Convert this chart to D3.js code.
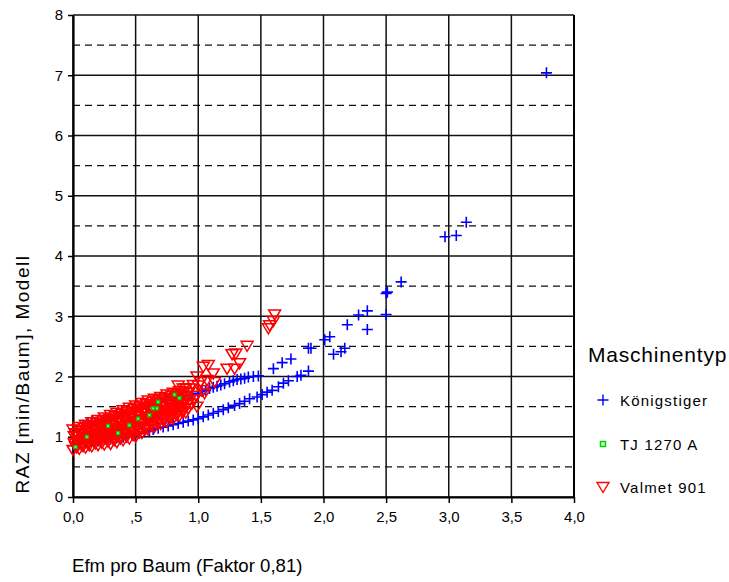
<!DOCTYPE html>
<html>
<head>
<meta charset="utf-8">
<script src="https://cdn.jsdelivr.net/npm/d3@7"></script>
<style>
  body { margin: 0; background: #fff; }
  text { font-family: "Liberation Sans", Arial, sans-serif; fill: #000; }
</style>
</head>
<body>
<div class="chart"></div>
<script>
// data ---------------------------
const xTicks = [0, 0.5, 1, 1.5, 2, 2.5, 3, 3.5, 4];
const xTickLabels = ["0,0", ",5", "1,0", "1,5", "2,0", "2,5", "3,0", "3,5", "4,0"];
const yTicks = [0, 1, 2, 3, 4, 5, 6, 7, 8];
const yHalf = [0.5, 1.5, 2.5, 3.5, 4.5, 5.5, 6.5, 7.5];
const seriesNames = ["Königstiger", "TJ 1270 A", "Valmet 901"];

const koenigstiger = [
  [0.08,1.18],[0.12,1.22],[0.15,1.25],[0.18,1.24],[0.22,1.28],[0.26,1.30],[0.30,1.33],[0.35,1.36],
  [0.39,1.41],[0.44,1.42],[0.50,1.46],[0.55,1.48],[0.60,1.51],[0.65,1.54],[0.70,1.57],[0.75,1.60],
  [0.80,1.62],[0.85,1.65],[0.90,1.68],[0.95,1.70],[1.00,1.72],[1.03,1.75],[1.06,1.77],[1.09,1.80],
  [1.12,1.82],[1.15,1.84],[1.18,1.86],[1.21,1.88],[1.25,1.91],[1.28,1.93],[1.31,1.95],[1.34,1.96],
  [1.37,1.97],[1.40,1.99],[1.44,2.00],[1.48,2.01],[1.60,2.13],[1.67,2.23],[1.74,2.29],[1.88,2.47],
  [1.90,2.47],[2.01,2.61],[2.05,2.66],[2.19,2.86],[2.28,3.02],[2.35,3.09],[2.50,3.38],[2.51,3.40],
  [2.62,3.57],[2.97,4.32],[3.06,4.34],[3.14,4.56],[3.78,7.04],
  [0.00,0.85],[0.05,0.88],[0.10,0.90],[0.15,0.92],[0.20,0.93],[0.25,0.95],[0.30,0.96],[0.35,0.98],
  [0.40,0.99],[0.43,1.00],[0.47,1.02],[0.50,1.04],[0.53,1.06],[0.57,1.08],[0.61,1.10],[0.64,1.12],
  [0.68,1.14],[0.72,1.16],[0.76,1.18],[0.80,1.20],[0.84,1.22],[0.88,1.24],[0.92,1.26],[0.96,1.28],
  [1.00,1.30],[1.04,1.33],[1.08,1.36],[1.12,1.39],[1.16,1.42],[1.20,1.45],[1.24,1.48],[1.29,1.52],
  [1.33,1.55],[1.37,1.59],[1.41,1.63],[1.47,1.66],[1.51,1.70],[1.55,1.74],[1.59,1.77],[1.64,1.83],
  [1.68,1.89],[1.72,1.93],[1.79,2.00],[1.82,2.02],[1.88,2.09],[2.08,2.37],[2.14,2.41],[2.17,2.47],
  [2.35,2.78],[2.50,3.03]
];

const tj1270 = [
  [0.02,0.83],[0.11,1.00],[0.36,1.06],[0.45,1.19],[0.28,1.18],[0.52,1.30],[0.61,1.36],[0.64,1.47],
  [0.67,1.47],[0.68,1.58],[0.81,1.70],[0.85,1.64]
];

const valmet = [
  [0.00,0.78],[0.02,0.84],[0.01,0.89],[0.03,0.95],[0.01,1.01],[0.02,1.06],[0.00,1.12],
  [0.05,0.80],[0.07,0.86],[0.06,0.92],[0.08,0.98],[0.06,1.04],[0.07,1.10],[0.05,1.16],
  [0.10,0.82],[0.12,0.88],[0.11,0.95],[0.13,1.01],[0.11,1.07],[0.12,1.14],[0.10,1.20],
  [0.15,0.84],[0.17,0.91],[0.16,0.97],[0.18,1.04],[0.16,1.11],[0.17,1.17],[0.15,1.24],
  [0.20,0.86],[0.22,0.93],[0.21,1.00],[0.23,1.07],[0.21,1.14],[0.22,1.21],[0.20,1.28],
  [0.25,0.87],[0.27,0.95],[0.26,1.02],[0.28,1.10],[0.26,1.17],[0.27,1.25],[0.25,1.32],
  [0.30,0.88],[0.32,0.96],[0.31,1.04],[0.33,1.12],[0.31,1.20],[0.32,1.28],[0.30,1.36],
  [0.35,0.91],[0.37,0.99],[0.36,1.07],[0.38,1.16],[0.36,1.24],[0.37,1.32],[0.35,1.40],
  [0.40,0.94],[0.42,1.02],[0.41,1.11],[0.43,1.19],[0.41,1.27],[0.42,1.36],[0.40,1.44],
  [0.45,0.97],[0.47,1.06],[0.46,1.14],[0.48,1.23],[0.46,1.31],[0.47,1.40],[0.45,1.48],
  [0.50,1.00],[0.52,1.09],[0.51,1.17],[0.53,1.26],[0.51,1.35],[0.52,1.43],[0.50,1.52],
  [0.55,1.06],[0.57,1.14],[0.56,1.23],[0.58,1.31],[0.56,1.39],[0.57,1.48],[0.55,1.56],
  [0.60,1.12],[0.62,1.20],[0.61,1.28],[0.63,1.36],[0.61,1.44],[0.62,1.52],[0.60,1.60],
  [0.65,1.16],[0.67,1.24],[0.66,1.32],[0.68,1.40],[0.66,1.47],[0.67,1.55],[0.65,1.63],
  [0.70,1.21],[0.72,1.28],[0.71,1.36],[0.73,1.43],[0.71,1.51],[0.72,1.58],[0.70,1.66],
  [0.75,1.25],[0.77,1.33],[0.76,1.40],[0.78,1.48],[0.76,1.55],[0.77,1.63],[0.75,1.70],
  [0.80,1.30],[0.82,1.37],[0.81,1.44],[0.83,1.52],[0.81,1.59],[0.82,1.66],[0.80,1.73],
  [0.85,1.35],[0.87,1.42],[0.86,1.49],[0.88,1.56],[0.86,1.62],[0.87,1.69],[0.85,1.76],
  [0.90,1.40],[0.92,1.47],[0.91,1.53],[0.93,1.60],[0.91,1.67],[0.92,1.73],[0.90,1.80],
  // in-between layer of the dense cloud
  [0.03,0.82],[0.02,0.88],[0.04,0.94],[0.03,1.00],[0.02,1.05],[0.04,1.11],
  [0.08,0.84],[0.07,0.90],[0.09,0.97],[0.08,1.03],[0.07,1.09],[0.09,1.15],
  [0.13,0.86],[0.12,0.93],[0.14,0.99],[0.13,1.06],[0.12,1.12],[0.14,1.19],
  [0.18,0.89],[0.17,0.95],[0.19,1.02],[0.18,1.09],[0.17,1.16],[0.19,1.23],
  [0.23,0.90],[0.22,0.98],[0.24,1.05],[0.23,1.12],[0.22,1.19],[0.24,1.27],
  [0.28,0.92],[0.27,0.99],[0.29,1.07],[0.28,1.15],[0.27,1.23],[0.29,1.30],
  [0.33,0.94],[0.32,1.02],[0.34,1.10],[0.33,1.18],[0.32,1.26],[0.34,1.34],
  [0.38,0.97],[0.37,1.05],[0.39,1.13],[0.38,1.22],[0.37,1.30],[0.39,1.38],
  [0.43,1.00],[0.42,1.08],[0.44,1.17],[0.43,1.25],[0.42,1.34],[0.44,1.42],
  [0.48,1.03],[0.47,1.12],[0.49,1.20],[0.48,1.29],[0.47,1.37],[0.49,1.46],
  [0.53,1.07],[0.52,1.16],[0.54,1.24],[0.53,1.33],[0.52,1.41],[0.54,1.50],
  [0.58,1.13],[0.57,1.21],[0.59,1.30],[0.58,1.38],[0.57,1.46],[0.59,1.54],
  [0.63,1.18],[0.62,1.26],[0.64,1.34],[0.63,1.42],[0.62,1.50],[0.64,1.58],
  [0.68,1.22],[0.67,1.30],[0.69,1.38],[0.68,1.45],[0.67,1.53],[0.69,1.61],
  [0.73,1.27],[0.72,1.34],[0.74,1.42],[0.73,1.49],[0.72,1.57],[0.74,1.64],
  [0.78,1.31],[0.77,1.39],[0.79,1.46],[0.78,1.54],[0.77,1.61],[0.79,1.68],
  [0.83,1.36],[0.82,1.43],[0.84,1.50],[0.83,1.57],[0.82,1.64],[0.84,1.71],
  [0.88,1.41],[0.87,1.48],[0.89,1.55],[0.88,1.61],[0.87,1.68],[0.89,1.75],
  // sparse tail
  [0.95,1.55],[0.99,1.50],[0.97,1.62],[1.00,1.85],[0.93,1.80],
  [0.84,1.85],[0.88,1.80],[0.96,1.86],[0.98,1.68],
  [0.99,2.00],[1.02,1.91],[1.04,1.77],[1.05,1.72],[1.07,1.94],[1.13,1.91],[1.04,2.16],
  [1.08,2.19],[1.12,2.05],[1.23,2.13],[1.29,2.13],[1.33,2.22],[1.27,2.37],[1.30,2.38],
  [1.39,2.51],[1.56,2.80],[1.57,2.85],[1.60,2.92],[1.61,3.03]
];

// chart INIT ------
const margin = {top: 15, left: 73};
const width = 574 - 73;
const height = 497 - 15;

const svg = d3.select(".chart")
  .append("svg")
  .attr("width", 729)
  .attr("height", 582);

const g = svg.append("g")
  .attr("transform", `translate(${margin.left},${margin.top})`);

const xScale = d3.scaleLinear().domain([0, 4]).range([0, width]);
const yScale = d3.scaleLinear().domain([0, 8]).range([height, 0]);

// grid
g.selectAll(".vgrid").data(xTicks).enter().append("line")
  .attr("x1", d => xScale(d)).attr("x2", d => xScale(d))
  .attr("y1", 0).attr("y2", height)
  .attr("stroke", "#111").attr("stroke-width", 1.5);

g.selectAll(".hgrid").data(yTicks).enter().append("line")
  .attr("x1", 0).attr("x2", width)
  .attr("y1", d => yScale(d)).attr("y2", d => yScale(d))
  .attr("stroke", "#111").attr("stroke-width", 1.5);

g.selectAll(".hdash").data(yHalf).enter().append("line")
  .attr("x1", 0).attr("x2", width)
  .attr("y1", d => yScale(d)).attr("y2", d => yScale(d))
  .attr("stroke", "#111").attr("stroke-width", 1.2)
  .attr("stroke-dasharray", "7,5");

// axes
const xAxis = d3.axisBottom(xScale).tickValues(xTicks)
  .tickFormat((d, i) => xTickLabels[i]).tickSize(6).tickSizeOuter(0);
const yAxis = d3.axisLeft(yScale).tickValues(yTicks)
  .tickFormat(d3.format("d")).tickSize(5).tickSizeOuter(0);

const gx = g.append("g").attr("transform", `translate(0,${height})`).call(xAxis);
const gy = g.append("g").call(yAxis);

[gx, gy].forEach(a => {
  a.select(".domain").attr("stroke", "#000").attr("stroke-width", 2.2);
  a.selectAll(".tick line").attr("stroke", "#000").attr("stroke-width", 1.5);
  a.selectAll(".tick text")
    .style("font-family", "'Liberation Sans', Arial, sans-serif")
    .style("font-size", "15px")
    .attr("fill", "#000");
});
gx.selectAll(".tick text").attr("dy", "1.05em");
gy.selectAll(".tick text").attr("x", -10);

// right border a bit heavier
g.append("line").attr("x1", width).attr("x2", width).attr("y1", 0).attr("y2", height)
  .attr("stroke", "#000").attr("stroke-width", 2);

// markers
const plusPath = "M-5.5,0H5.5M0,-5.5V5.5";
const triPath = "M-6,-4.5L6,-4.5L0,5.5Z";
const sqPath = "M-2.5,-2.5H2.5V2.5H-2.5Z";
const sqSmall = "M-1.5,-1.5H1.5V1.5H-1.5Z";

const pts = g.append("g");

pts.selectAll(".k").data(koenigstiger).enter().append("path")
  .attr("d", plusPath)
  .attr("transform", d => `translate(${xScale(d[0])},${yScale(d[1])})`)
  .attr("fill", "none").attr("stroke", "#0000ff").attr("stroke-width", 1.6);

pts.selectAll(".v").data(valmet).enter().append("path")
  .attr("d", triPath)
  .attr("transform", d => `translate(${xScale(d[0])},${yScale(d[1])})`)
  .attr("fill", "none").attr("stroke", "#ff0000").attr("stroke-width", 1.5);

// the few TJ 1270 A squares peek out of the red cloud
pts.selectAll(".t").data(tj1270).enter().append("path")
  .attr("d", sqSmall)
  .attr("transform", d => `translate(${xScale(d[0])},${yScale(d[1])})`)
  .attr("fill", "#7f7").attr("stroke", "#00c800").attr("stroke-width", 1.2);

// titles
svg.append("text")
  .attr("x", 72).attr("y", 572)
  .style("font-size", "18.6px")
  .text("Efm pro Baum (Faktor 0,81)");

svg.append("text")
  .attr("transform", "translate(29,374) rotate(-90)")
  .attr("text-anchor", "middle")
  .style("font-size", "19px")
  .style("letter-spacing", "1.5px")
  .text("RAZ [min/Baum], Modell");

// legend
const legend = svg.append("g");
legend.append("text")
  .attr("x", 588).attr("y", 362)
  .style("font-size", "21px")
  .style("letter-spacing", "0.8px")
  .text("Maschinentyp");

const legendY = [400, 444, 487];
const legendMarks = [
  {d: plusPath, fill: "none", stroke: "#0000ff", sw: 1.4},
  {d: sqPath, fill: "#cfc", stroke: "#00d000", sw: 1.5},
  {d: triPath, fill: "none", stroke: "#ff0000", sw: 1.4}
];

seriesNames.forEach((name, i) => {
  legend.append("path")
    .attr("d", legendMarks[i].d)
    .attr("transform", `translate(603,${legendY[i]})`)
    .attr("fill", legendMarks[i].fill)
    .attr("stroke", legendMarks[i].stroke)
    .attr("stroke-width", legendMarks[i].sw);
  legend.append("text")
    .attr("x", 620).attr("y", legendY[i] + 6)
    .style("font-size", "15px")
    .style("letter-spacing", "1.2px")
    .text(name);
});
</script>
</body>
</html>
